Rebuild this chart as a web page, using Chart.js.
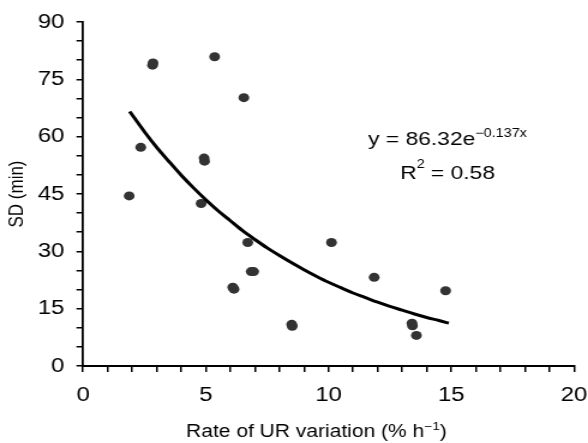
<!DOCTYPE html>
<html>
<head>
<meta charset="utf-8">
<script src="https://cdn.jsdelivr.net/npm/chart.js@4"></script>
<style>
  html, body { margin: 0; padding: 0; background: #fff; overflow: hidden; }
  /* the reference figure is stretched sideways, so the canvas is too */
  #box { width: 490px; height: 443px; transform: scaleX(1.2); transform-origin: 0 0; }
</style>
</head>
<body>
<div id="box"><canvas id="chart" width="490" height="443"></canvas></div>
<script>
'use strict';

// Observed points (rate of UR variation, SD)
const rateValues = [1.88, 2.35, 2.83, 2.85, 4.81, 4.93, 4.95, 5.36, 6.1, 6.15, 6.55,
  6.71, 6.85, 6.95, 8.5, 8.52, 10.12, 11.86, 13.4, 13.42, 13.58, 14.77];
const sdValues = [44.5, 57.2, 78.7, 79.3, 42.5, 54.4, 53.6, 80.9, 20.6, 20.1, 70.2,
  32.3, 24.7, 24.7, 10.9, 10.4, 32.3, 23.2, 11.2, 10.5, 8.0, 19.7];

// Trend line
const trendX = [1.9, 2.5, 3, 3.5, 4, 4.5, 5, 5.5, 6, 6.5, 7, 7.5, 8, 8.5, 9, 9.5,
  10, 10.5, 11, 11.5, 12, 12.5, 13, 13.5, 14, 14.5, 14.9];
const trendY = [66.6, 61.3, 57.2, 53.5, 49.9, 46.6, 43.5, 40.6, 38.0, 35.4, 33.1, 30.9,
  28.9, 27.0, 25.2, 23.5, 21.9, 20.5, 19.1, 17.9, 16.7, 15.6, 14.6, 13.6, 12.7, 11.9, 11.2];

const xMajorTicks = [0, 5, 10, 15, 20];
const yMajorTicks = [0, 15, 30, 45, 60, 75, 90];

const equationText = ['y = 86.32e', '\u22120.137x'];
const rSquaredText = ['R', '2', ' = 0.58'];
const xTitleText = ['Rate of UR variation (% h', '\u22121', ')'];

const FONT = '"Liberation Sans", Arial, sans-serif';

// Draws a run of [text, size, raise] pieces centred on cx.
function drawPieces(ctx, pieces, cx, y) {
  let total = 0;
  const widths = pieces.map(([text, size]) => {
    ctx.font = size + 'px ' + FONT;
    const w = ctx.measureText(text).width;
    total += w;
    return w;
  });
  let x = cx - total / 2;
  pieces.forEach(([text, size, raise], i) => {
    ctx.font = size + 'px ' + FONT;
    ctx.fillText(text, x, y - raise);
    x += widths[i];
  });
}

// Fit equation, R² and the x axis title (all have superscripts).
const textPlugin = {
  id: 'texts',
  afterDraw(chart) {
    const ctx = chart.ctx;
    const xs = chart.scales.x;
    const ys = chart.scales.y;
    const cx = xs.getPixelForValue(14.85);
    ctx.save();
    ctx.fillStyle = '#000';
    ctx.textBaseline = 'alphabetic';

    drawPieces(ctx, [[equationText[0], 19, 0], [equationText[1], 12, 8]],
      cx, ys.getPixelForValue(57.7));
    drawPieces(ctx, [[rSquaredText[0], 19, 0], [rSquaredText[1], 12, 11], [rSquaredText[2], 19, 0]],
      cx, ys.getPixelForValue(49.0));

    const area = chart.chartArea;
    drawPieces(ctx, [[xTitleText[0], 17.5, 0], [xTitleText[1], 11.5, 7], [xTitleText[2], 17.5, 0]],
      (area.left + area.right) / 2 - 10, chart.height - 6);
    ctx.restore();
  }
};

const points = rateValues.map((v, i) => ({x: v, y: sdValues[i]}));
const trend = trendX.map((v, i) => ({x: v, y: trendY[i]}));

new Chart(document.getElementById('chart'), {
  type: 'scatter',
  data: {
    datasets: [{
      label: 'SD',
      data: points,
      backgroundColor: '#333333',
      borderColor: '#333333',
      pointRadius: 4.5,
      pointBorderWidth: 0,
      order: 2
    },
    {
      label: 'Fit',
      type: 'line',
      data: trend,
      borderColor: '#000',
      borderWidth: 3,
      pointRadius: 0,
      fill: false,
      tension: 0.3,
      order: 1
    }]
  },
  options: {
    responsive: false,
    animation: false,
    devicePixelRatio: 1,
    layout: {padding: {top: 20, right: 11.7, left: 0, bottom: 0}},
    plugins: {
      legend: {display: false},
      tooltip: {enabled: false}
    },
    scales: {
      x: {
        type: 'linear',
        min: 0,
        max: 20,
        afterFit: (scale) => {
          scale.height = 77;
          scale.paddingLeft = 0;
          scale.paddingRight = 0;
        },
        afterBuildTicks: (scale) => {
          scale.ticks = Array.from({length: 21}, (_, i) => ({value: i}));
        },
        ticks: {
          color: '#000',
          font: {family: FONT, size: 20},
          padding: 11,
          maxRotation: 0,
          autoSkip: false,
          callback: (v) => xMajorTicks.includes(v) ? String(v) : ''
        },
        grid: {drawOnChartArea: false, drawTicks: true, tickLength: 6, color: '#000', lineWidth: 1.5},
        border: {display: true, color: '#000', width: 2}
      },
      y: {
        min: 0,
        max: 90,
        afterFit: (scale) => { scale.width = 69.2; },
        afterBuildTicks: (scale) => {
          scale.ticks = Array.from({length: 19}, (_, i) => ({value: i * 5}));
        },
        ticks: {
          color: '#000',
          font: {family: FONT, size: 20},
          padding: 10,
          autoSkip: false,
          callback: (v) => yMajorTicks.includes(v) ? String(v) : ''
        },
        grid: {drawOnChartArea: false, drawTicks: true, tickLength: 5.5, color: '#000', lineWidth: 1.5},
        border: {display: true, color: '#000', width: 1.8},
        title: {
          display: true,
          text: 'SD (min)',
          color: '#000',
          font: {family: FONT, size: 17},
          padding: {top: 4, bottom: 0}
        }
      }
    }
  },
  plugins: [textPlugin]
});
</script>
</body>
</html>
